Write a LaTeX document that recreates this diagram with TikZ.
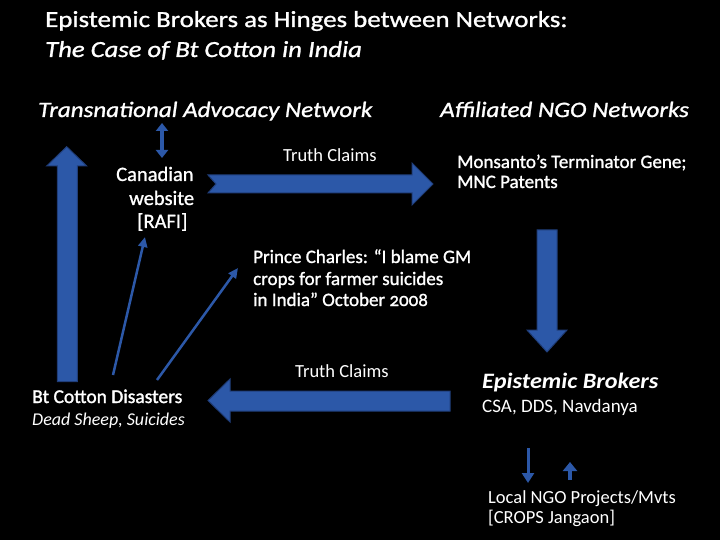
\documentclass[tikz,border=0pt]{standalone}
\usepackage{fontspec}
\setmainfont{Carlito}
\usetikzlibrary{arrows.meta}
\definecolor{barblue}{RGB}{44,88,168}
\definecolor{edgeblue}{RGB}{32,62,122}
\begin{document}
\begin{tikzpicture}[x=1pt,y=-1pt,
  txt/.style={text=white, inner sep=0pt, anchor=base west},
  fsTitle/.style={font=\fontsize{23}{28}\selectfont\addfontfeatures{FakeStretch=1.17,FakeBold=1.2}},
  fsTitleIt/.style={font=\fontsize{23}{28}\selectfont\itshape\addfontfeatures{FakeStretch=1.16,FakeBold=1.2}},
  fsHead/.style={font=\fontsize{22}{26}\selectfont\itshape\addfontfeatures{FakeStretch=1.14,FakeBold=1.2}},
  fsBody/.style={font=\fontsize{20.5}{24}\selectfont\addfontfeatures{FakeBold=1}},
  fsMid/.style={font=\fontsize{19}{23}\selectfont\addfontfeatures{FakeBold=1.2}},
  fsLight/.style={font=\fontsize{18.5}{22}\selectfont},
  block/.style={fill=barblue, draw=edgeblue, line width=1pt, line join=miter},
  thin/.style={draw=barblue, line width=2.5pt, -{Triangle[width=9pt,length=10pt]}},
  small/.style={draw=barblue, line width=4pt}
]
\fill[black] (0,0) rectangle (720,540);
\useasboundingbox (0,0) rectangle (720,540);

% titles
\node[txt,fsTitle] (t1) at (45,27) {Epistemic Brokers as Hinges between Networks:};
\node[txt,fsTitleIt] (t2) at (45,57) {The Case of Bt Cotton in India};
\node[txt,fsHead] (tan) at (38,117) {Transnational Advocacy Network};
\node[txt,fsHead] (ngo) at (440,117) {Affiliated NGO Networks};

% Canadian website
\node[txt,fsBody] (can1) at (116,181) {Canadian};
\node[txt,fsBody] (can2) at (129,205) {website};
\node[txt,fsBody] (can3) at (137,228) {[RAFI]};

% truth claims labels
\node[txt,fsLight] (tc1) at (283,162) {Truth Claims};
\node[txt,fsLight] (tc2) at (295,377) {Truth Claims};

% Monsanto
\node[txt,fsMid] (mon1) at (457,168) {Monsanto’s Terminator Gene;};
\node[txt,fsMid] (mon2) at (457,188) {MNC Patents};

% Prince Charles
\node[txt,fsMid] (pc1) at (253,263) {Prince Charles: “I blame GM};
\node[txt,fsMid] (pc2) at (253,285) {crops for farmer suicides};
\node[txt,fsMid] (pc3) at (253,306) {in India” October {\addfontfeatures{Numbers=OldStyle}2008}};

% Bt cotton
\node[txt,font=\fontsize{19.5}{24}\selectfont\addfontfeatures{FakeBold=1.5}] (bt1) at (32,403) {Bt Cotton Disasters};
\node[txt,font=\fontsize{18}{22}\selectfont\itshape] (bt2) at (32,425) {Dead Sheep, Suicides};

% Epistemic brokers
\node[txt,font=\fontsize{22}{26}\selectfont\bfseries\itshape\addfontfeatures{FakeStretch=1.1}] (eb1) at (482,388) {Epistemic Brokers};
\node[txt,font=\fontsize{19}{23}\selectfont] (eb2) at (482,412) {CSA, DDS, Navdanya};

% Local NGO
\node[txt,fsLight] (loc1) at (488,503) {Local NGO Projects/Mvts};
\node[txt,fsLight] (loc2) at (488,523) {[CROPS Jangaon]};

% block arrows
\draw[block] (57.3,381.7) -- (57.3,166) -- (46.7,166) -- (66.7,146.7) -- (86.7,166) -- (77.3,166) -- (77.3,381.7) -- cycle;
\draw[block] (208,175) -- (412,175) -- (412,163) -- (433,184) -- (412,205) -- (412,193) -- (208,193) -- (216,184) -- cycle;
\draw[block] (537,230) -- (557,230) -- (557,330) -- (567,330) -- (547,352) -- (527,330) -- (537,330) -- cycle;
\draw[block] (450,391) -- (230,391) -- (230,379) -- (208,400.5) -- (230,422) -- (230,411) -- (450,411) -- cycle;

% thin arrows
\coordinate (a1s) at (113,375);
\coordinate (a1e) at (145,237);
\coordinate (a2s) at (157,380);
\coordinate (a2e) at (238,268);
\draw[thin] (a1s) -- (a1e);
\draw[thin] (a2s) -- (a2e);

% small arrows
\coordinate (d1) at (162,123);
\coordinate (d2) at (162,158);
\draw[small, {Triangle[width=12pt,length=8pt]}-{Triangle[width=12pt,length=8pt]}] (d1) -- (d2);
\coordinate (s1) at (528,448);
\coordinate (s2) at (528,483);
\draw[draw=barblue, line width=3pt, -{Triangle[width=12pt,length=10pt]}] (s1) -- (s2);
\coordinate (u1) at (570,480);
\coordinate (u2) at (570,462);
\draw[small, -{Triangle[width=14pt,length=9pt]}] (u1) -- (u2);
\end{tikzpicture}
\end{document}
